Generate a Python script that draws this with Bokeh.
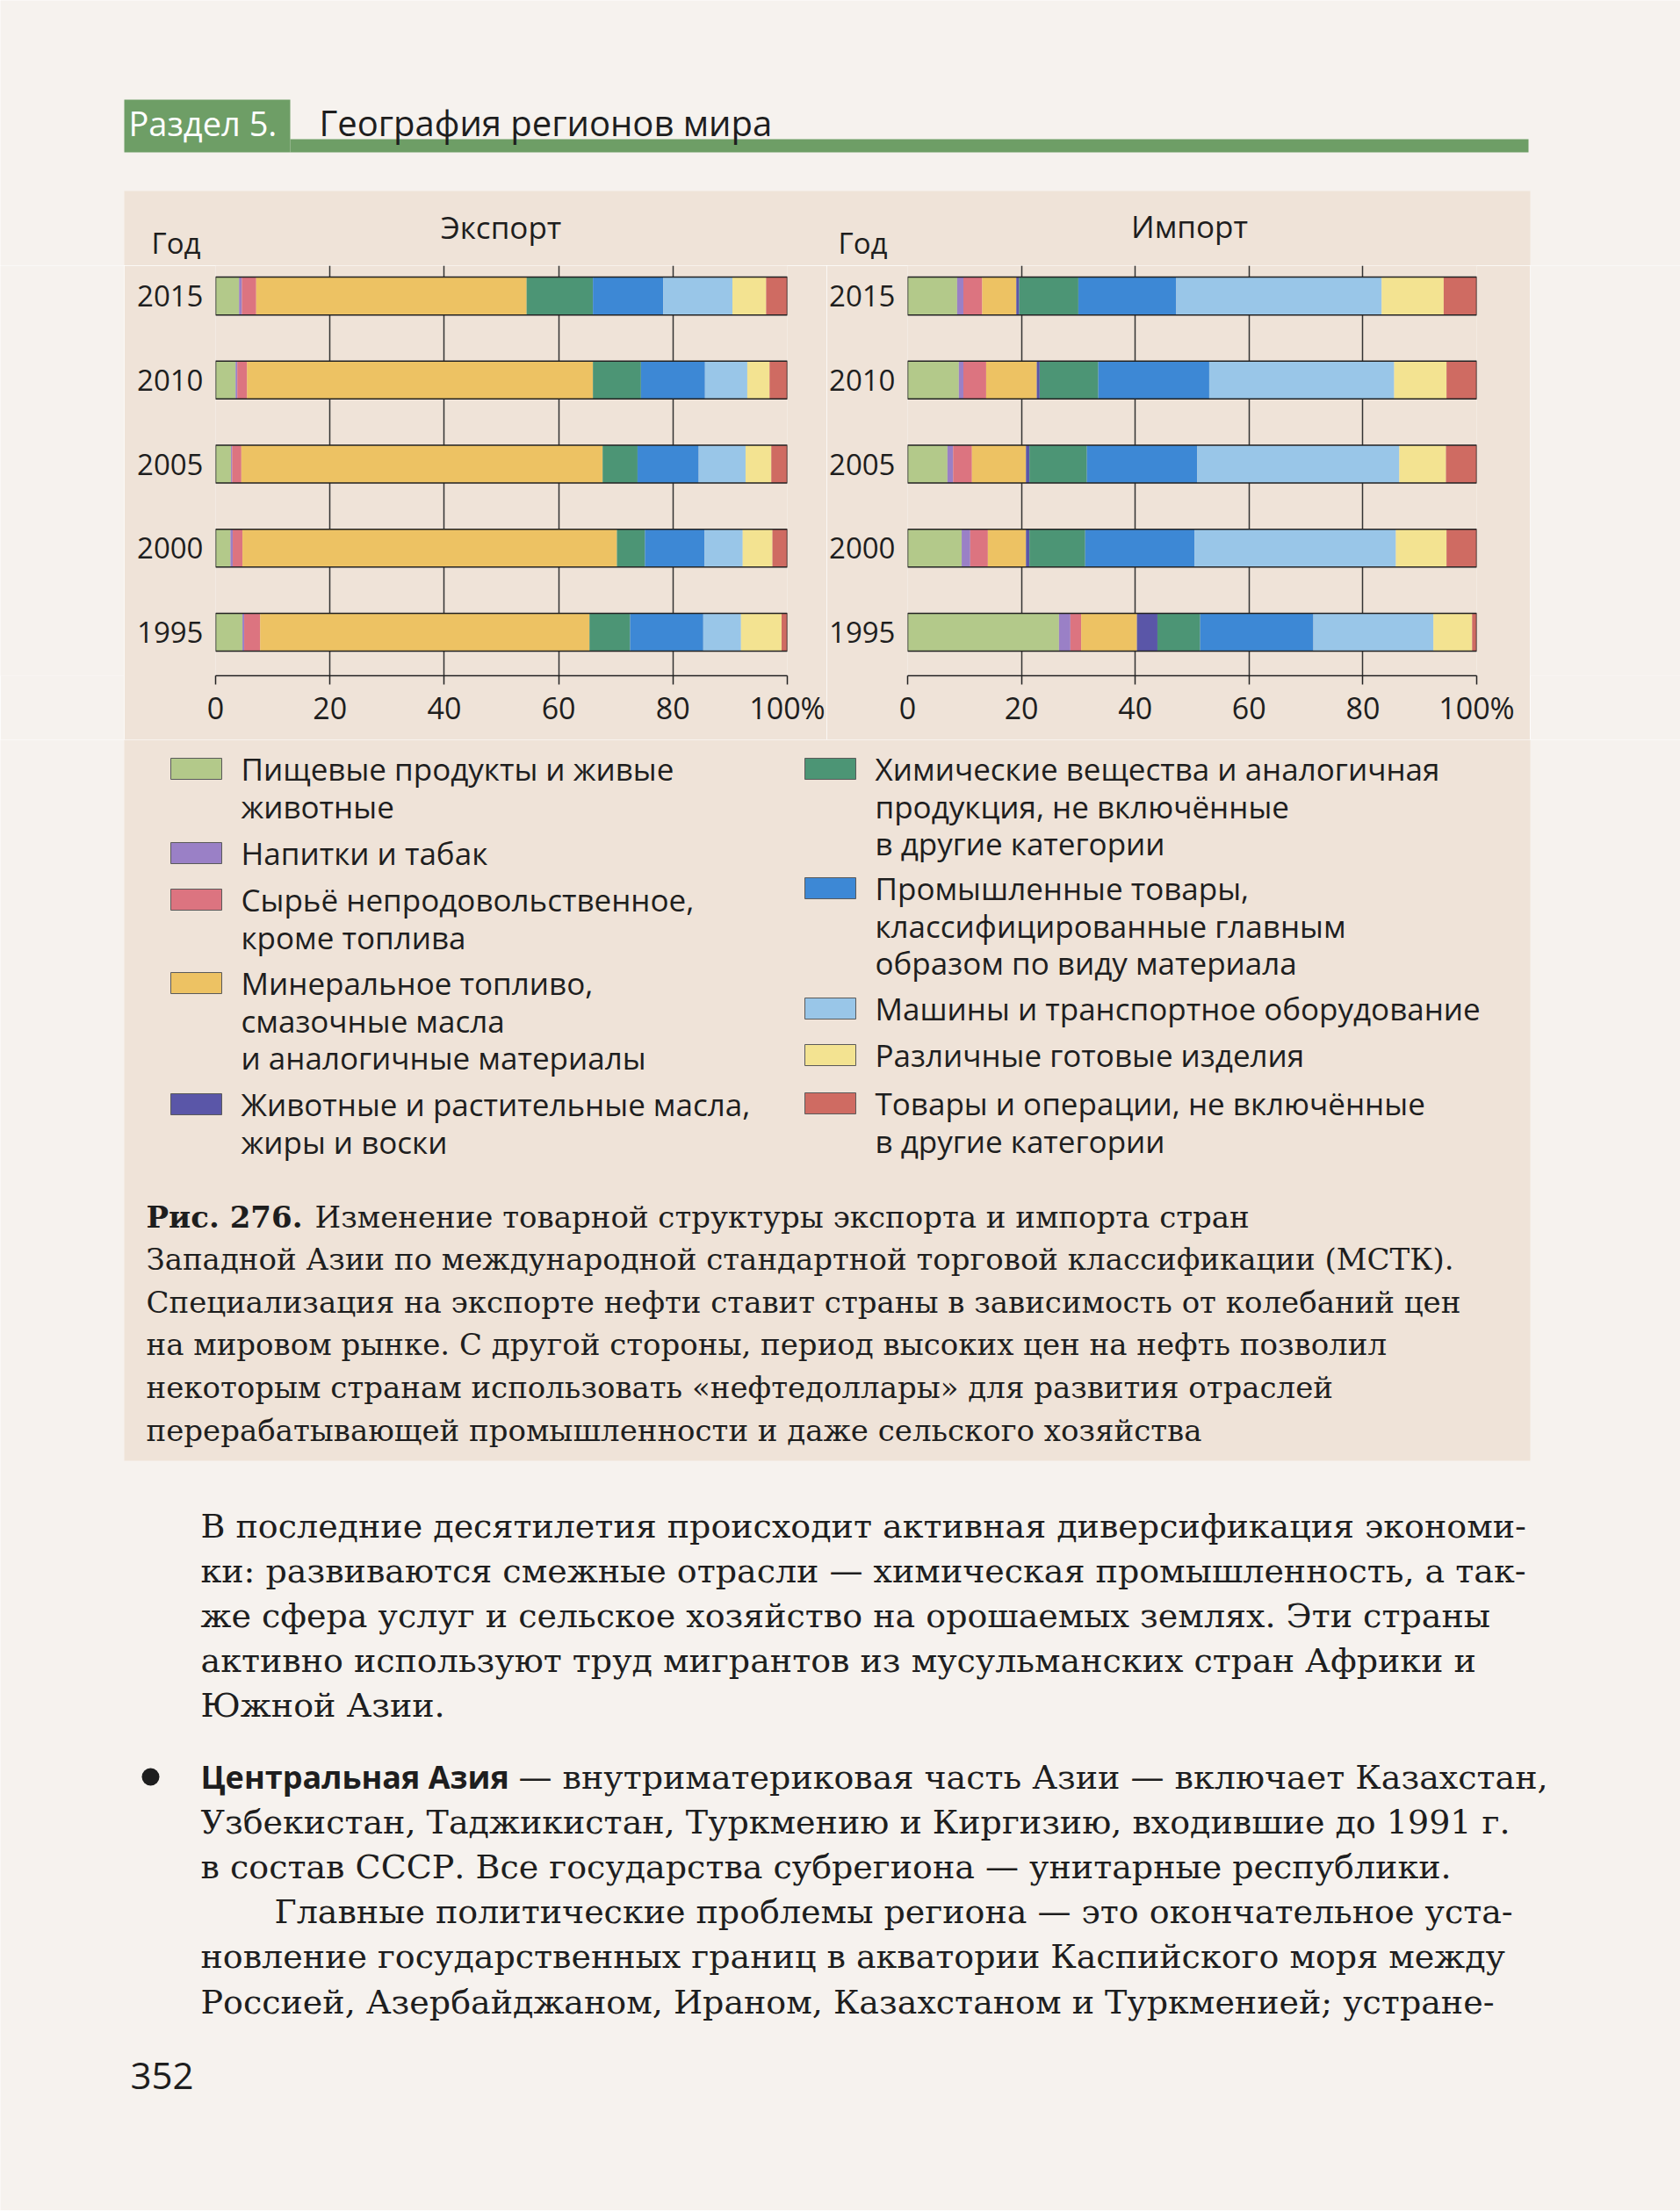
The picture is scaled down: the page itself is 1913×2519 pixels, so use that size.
from bokeh.plotting import figure
from bokeh.layouts import column, row
from bokeh.models import ColumnDataSource, Range1d, FixedTicker
from bokeh.core.properties import value
from bokeh.embed import file_html
from bokeh.resources import INLINE

# ---------------- data ----------------
years = [1995, 2000, 2005, 2010, 2015]
keys = ["food", "bev", "raw", "fuel", "oils", "chem", "manuf", "mach", "misc", "other"]

# Export shares, % (1995, 2000, 2005, 2010, 2015)
exp_food  = [4.7, 2.6, 2.7, 3.5, 4.1]
exp_bev   = [0.3, 0.4, 0.2, 0.3, 0.5]
exp_raw   = [2.8, 1.7, 1.6, 1.7, 2.5]
exp_fuel  = [57.6, 65.5, 63.2, 60.5, 47.3]
exp_oils  = [0.0, 0.0, 0.0, 0.0, 0.0]
exp_chem  = [7.1, 4.9, 6.1, 8.4, 11.6]
exp_manuf = [12.8, 10.4, 10.7, 11.2, 12.3]
exp_mach  = [6.6, 6.7, 8.2, 7.4, 12.1]
exp_misc  = [7.1, 5.2, 4.5, 3.9, 5.9]
exp_other = [1.0, 2.6, 2.8, 3.1, 3.7]

# Import shares, % (1995, 2000, 2005, 2010, 2015)
imp_food  = [26.6, 9.5, 7.0, 9.0, 8.7]
imp_bev   = [2.0, 1.5, 1.0, 0.8, 1.1]
imp_raw   = [1.9, 3.1, 3.3, 4.0, 3.3]
imp_fuel  = [9.8, 6.7, 9.5, 8.9, 6.0]
imp_oils  = [3.6, 0.6, 0.6, 0.5, 0.5]
imp_chem  = [7.5, 9.8, 10.1, 10.3, 10.4]
imp_manuf = [19.9, 19.2, 19.4, 19.5, 17.2]
imp_mach  = [21.1, 35.4, 35.5, 32.5, 36.1]
imp_misc  = [6.8, 8.9, 8.2, 9.2, 10.9]
imp_other = [0.8, 5.3, 5.4, 5.3, 5.8]

x_ticks = [0, 20, 40, 60, 80, 100]
x_tick_labels = ["0", "20", "40", "60", "80", "100%"]

legend_left = [
    ["Пищевые продукты и живые", "животные"],
    ["Напитки и табак"],
    ["Сырьё непродовольственное,", "кроме топлива"],
    ["Минеральное топливо,", "смазочные масла", "и аналогичные материалы"],
    ["Животные и растительные масла,", "жиры и воски"],
]
legend_right = [
    ["Химические вещества и аналогичная", "продукция, не включённые", "в другие категории"],
    ["Промышленные товары,", "классифицированные главным", "образом по виду материала"],
    ["Машины и транспортное оборудование"],
    ["Различные готовые изделия"],
    ["Товары и операции, не включённые", "в другие категории"],
]

colors = ["#b3c98a", "#9a80c6", "#dc7480", "#edc263", "#5a56a8",
          "#4c9575", "#3d88d5", "#99c6e8", "#f3e391", "#cf6b62"]

caption_bold = "Рис. 276."
caption_lines = [
    "Изменение товарной структуры экспорта и импорта стран",
    "Западной Азии по международной стандартной торговой классификации (МСТК).",
    "Специализация на экспорте нефти ставит страны в зависимость от колебаний цен",
    "на мировом рынке. С другой стороны, период высоких цен на нефть позволил",
    "некоторым странам использовать «нефтедоллары» для развития отраслей",
    "перерабатывающей промышленности и даже сельского хозяйства",
]
body_lines_1 = [
    "В последние десятилетия происходит активная диверсификация экономи-",
    "ки: развиваются смежные отрасли — химическая промышленность, а так-",
    "же сфера услуг и сельское хозяйство на орошаемых землях. Эти страны",
    "активно используют труд мигрантов из мусульманских стран Африки и",
    "Южной Азии.",
]
body_bold = "Центральная Азия"
body_lines_2 = [
    "— внутриматериковая часть Азии — включает Казахстан,",
    "Узбекистан, Таджикистан, Туркмению и Киргизию, входившие до 1991 г.",
    "в состав СССР. Все государства субрегиона — унитарные республики.",
    "Главные политические проблемы региона — это окончательное уста-",
    "новление государственных границ в акватории Каспийского моря между",
    "Россией, Азербайджаном, Ираном, Казахстаном и Туркменией; устране-",
]

# ---------------- styles ----------------
PAGE = "#f6f2ee"
PINK = "#efe3d8"
GREEN = "#6e9e66"
INK = "#1e1e1e"
SANS = "Open Sans"
SERIF = "DejaVu Serif"
W = 1913
TOP_H = 302
ROW_H = 540
BOT_H = 1675
FRAME_H = 467


def blank(width, height, x0, x1, y0, y1, bg=PAGE):
    p = figure(width=width, height=height, x_range=Range1d(x0, x1), y_range=Range1d(y1, y0),
               output_backend="svg", toolbar_location=None, title=None,
               x_axis_location=None, y_axis_location=None,
               min_border=0, background_fill_color=bg, border_fill_color=bg,
               outline_line_color=None)
    p.grid.visible = False
    return p


def txt(p, x, y, t, size, font=SANS, style="normal", color=INK, align="left"):
    p.text(x=[x], y=[y], text=[t], text_font=value(font), text_font_size=f"{size}px",
           text_font_style=style, text_color=color, text_align=align, text_baseline="middle")


def make_chart(data, width, left, right):
    d = dict(year=years)
    d.update({k: v for k, v in zip(keys, data)})
    d["total"] = [sum(v[i] for v in data) for i in range(len(years))]
    src = ColumnDataSource(d)
    p = figure(width=width, height=ROW_H, y_range=Range1d(1992.41, 2016.81), x_range=Range1d(0, 100),
               output_backend="svg", toolbar_location=None, title=None,
               min_border_left=left, min_border_right=right, min_border_top=0,
               min_border_bottom=ROW_H - FRAME_H, background_fill_color=PINK,
               border_fill_color=PINK, outline_line_color=None)
    p.hbar_stack(keys, y="year", height=2.25, fill_color=colors, line_color=None, source=src)
    p.hbar(y="year", left=0, right="total", height=2.25, fill_color=None,
           line_color="#222222", line_width=1.5, source=src)
    p.xaxis.ticker = FixedTicker(ticks=x_ticks)
    p.xaxis.major_label_overrides = {t: l for t, l in zip(x_ticks, x_tick_labels)}
    p.xaxis.axis_line_color = "#222222"
    p.xaxis.axis_line_width = 1.5
    p.xaxis.major_tick_line_color = "#222222"
    p.xaxis.major_tick_line_width = 1.5
    p.xaxis.major_tick_out = 10
    p.xaxis.major_tick_in = 0
    p.xaxis.minor_tick_line_color = None
    p.xaxis.major_label_standoff = 3
    p.xaxis.major_label_text_font = SANS
    p.xaxis.major_label_text_font_size = "34px"
    p.xaxis.major_label_text_color = INK
    p.yaxis.ticker = FixedTicker(ticks=years)
    p.yaxis.axis_line_color = None
    p.yaxis.major_tick_line_color = None
    p.yaxis.minor_tick_line_color = None
    p.yaxis.major_label_standoff = 8
    p.yaxis.major_label_text_font = SANS
    p.yaxis.major_label_text_font_size = "33px"
    p.yaxis.major_label_text_color = INK
    p.xgrid.ticker = FixedTicker(ticks=x_ticks)
    p.xgrid.grid_line_color = "#333333"
    p.xgrid.grid_line_width = 1.5
    p.ygrid.grid_line_color = None
    return p


# ---------------- top band (header + chart titles) ----------------
top = blank(W, TOP_H, 0, W, 0, TOP_H)
top.quad(left=[141], right=[1742], top=[217], bottom=[TOP_H], fill_color=PINK, line_color=None)
top.quad(left=[141], right=[330], top=[113], bottom=[173], fill_color=GREEN, line_color=None)
top.quad(left=[330], right=[1740], top=[158], bottom=[173], fill_color=GREEN, line_color=None)
txt(top, 146, 139, "Раздел 5.", 38, color="#ffffff")
txt(top, 363, 139, "География  регионов  мира", 40)
txt(top, 570, 258, "Экспорт", 35, align="center")
txt(top, 1354, 257, "Импорт", 35, align="center")
txt(top, 172, 276, "Год", 33)
txt(top, 954, 276, "Год", 33)

# ---------------- charts row ----------------
export_data = [exp_food, exp_bev, exp_raw, exp_fuel, exp_oils, exp_chem, exp_manuf, exp_mach, exp_misc, exp_other]
import_data = [imp_food, imp_bev, imp_raw, imp_fuel, imp_oils, imp_chem, imp_manuf, imp_mach, imp_misc, imp_other]
p_exp = make_chart(export_data, 800, 104, 45)
p_imp = make_chart(import_data, 801, 87, 61)
left_pad = blank(141, ROW_H, 0, 1, 0, 1)
right_pad = blank(W - 141 - 800 - 801, ROW_H, 0, 1, 0, 1)

# ---------------- bottom band: legend, caption, body ----------------
y0 = TOP_H + ROW_H
bot = blank(W, BOT_H, 0, W, y0, y0 + BOT_H)
bot.quad(left=[141], right=[1742], top=[y0], bottom=[1663], fill_color=PINK, line_color=None)

left_rows = [875, 971, 1024, 1119, 1257]
right_rows = [875, 1011, 1148, 1201, 1256]
line_step = 42.5
left_colors = colors[:5]
right_colors = colors[5:]
for col_x, rows, entries, cols in [(194, left_rows, legend_left, left_colors),
                                   (916, right_rows, legend_right, right_colors)]:
    for yc, lines, c in zip(rows, entries, cols):
        bot.quad(left=[col_x], right=[col_x + 58], top=[yc - 12], bottom=[yc + 12],
                 fill_color=c, line_color="#5a5a5a", line_width=1)
        for i, ln in enumerate(lines):
            txt(bot, col_x + 80, yc + i * line_step, ln, 35)

cap_y0, cap_step = 1385, 48.6
txt(bot, 166, cap_y0, caption_bold, 34, font=SERIF, style="bold")
txt(bot, 358, cap_y0, caption_lines[0], 34, font=SERIF)
for i, ln in enumerate(caption_lines[1:], start=1):
    txt(bot, 166, cap_y0 + i * cap_step, ln, 34, font=SERIF)

b_y0, b_step = 1737, 51.2
for i, ln in enumerate(body_lines_1):
    txt(bot, 228, b_y0 + i * b_step, ln, 38, font=SERIF)

b2_y0 = 2023
bot.scatter(x=[171], y=[b2_y0], size=20, marker="circle", fill_color=INK, line_color=None)
txt(bot, 228, b2_y0, body_bold, 36, style="bold")
txt(bot, 590, b2_y0, body_lines_2[0], 38, font=SERIF)
txt(bot, 228, b2_y0 + b_step, body_lines_2[1], 38, font=SERIF)
txt(bot, 228, b2_y0 + 2 * b_step, body_lines_2[2], 38, font=SERIF)
txt(bot, 312, b2_y0 + 3 * b_step, body_lines_2[3], 38, font=SERIF)
txt(bot, 228, b2_y0 + 4 * b_step, body_lines_2[4], 38, font=SERIF)
txt(bot, 228, b2_y0 + 5 * b_step, body_lines_2[5], 38, font=SERIF)

txt(bot, 148, 2363, "352", 42)

layout = column(top, row(left_pad, p_exp, p_imp, right_pad), bot)
open("out.html", "w").write(file_html(layout, INLINE))
